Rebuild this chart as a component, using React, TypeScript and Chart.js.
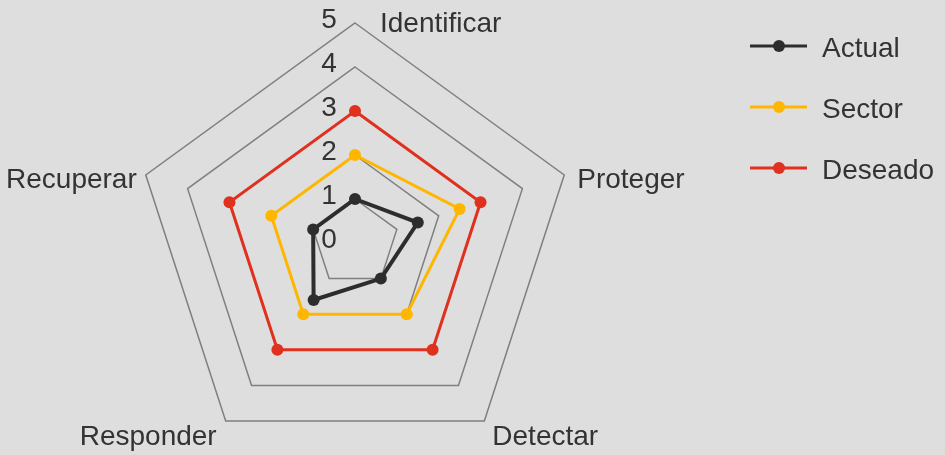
import React, { useEffect, useRef } from "react";
import { Chart, registerables } from "chart.js";

Chart.register(...registerables);

const categories = ["Identificar", "Proteger", "Detectar", "Responder", "Recuperar"];
const actualValues = [1, 1.5, 1, 1.6, 1];
const sectorValues = [2, 2.5, 2, 2, 2];
const deseadoValues = [3, 3, 3, 3, 3];
const seriesNames = ["Actual", "Sector", "Deseado"];
const tickValues = [0, 1, 2, 3, 4, 5];

const COLORS = ["#2d2d2d", "#ffb600", "#e0301e"];
const TEXT = "#333333";
const FONT = '28px "Liberation Sans", Arial, sans-serif';

// label placement offsets relative to outer-ring vertex
const labelDx = [25, 13, 8, -9, -9];
const labelDy = [9, 12.5, 24, 24, 12.5];
const labelAlign: CanvasTextAlign[] = ["left", "left", "left", "right", "right"];

const customText = {
  id: "customText",
  beforeDatasetsDraw(chart: any) {
    const scale = chart.scales.r;
    const ctx = chart.ctx;
    ctx.save();
    ctx.font = FONT;
    ctx.fillStyle = TEXT;
    ctx.textBaseline = "alphabetic";
    // tick labels
    ctx.textAlign = "center";
    tickValues.forEach((v) => {
      const y = scale.yCenter - scale.getDistanceFromCenterForValue(v);
      ctx.fillText(String(v), scale.xCenter - 26, y + 5);
    });
    // point labels
    categories.forEach((c, i) => {
      const p = scale.getPointPosition(i, scale.drawingArea);
      ctx.textAlign = labelAlign[i];
      ctx.fillText(c, p.x + labelDx[i], p.y + labelDy[i]);
    });
    ctx.restore();
  },
  afterDraw(chart: any) {
    const ctx = chart.ctx;
    ctx.save();
    ctx.font = FONT;
    chart.data.datasets.forEach((ds: any, i: number) => {
      const y = 46 + i * 61;
      ctx.strokeStyle = ds.borderColor;
      ctx.lineWidth = 3;
      ctx.beginPath();
      ctx.moveTo(750, y);
      ctx.lineTo(807, y);
      ctx.stroke();
      ctx.fillStyle = ds.borderColor;
      ctx.beginPath();
      ctx.arc(779, y, 6, 0, Math.PI * 2);
      ctx.fill();
      ctx.fillStyle = TEXT;
      ctx.textAlign = "left";
      ctx.textBaseline = "alphabetic";
      ctx.fillText(ds.label, 822, y + 10.5);
    });
    ctx.restore();
  },
};

export default function App() {
  const ref = useRef<HTMLCanvasElement>(null);
  useEffect(() => {
    if (!ref.current) return;
    const values = [actualValues, sectorValues, deseadoValues];
    const chart = new Chart(ref.current, {
      type: "radar",
      data: {
        labels: categories,
        datasets: values.map((v, i) => ({
          label: seriesNames[i],
          data: v,
          borderColor: COLORS[i],
          backgroundColor: COLORS[i],
          pointBackgroundColor: COLORS[i],
          pointBorderColor: COLORS[i],
          pointBorderWidth: 0,
          pointRadius: 6,
          borderWidth: i === 0 ? 4 : 3,
          fill: false,
        })),
      },
      options: {
        responsive: false,
        animation: false,
        layout: { padding: { top: 23, bottom: 17, left: 135, right: 370 } },
        plugins: { legend: { display: false }, tooltip: { enabled: false } },
        scales: {
          r: {
            min: 0,
            max: 5,
            ticks: { display: false, stepSize: 1 },
            pointLabels: { display: false },
            angleLines: { display: false },
            grid: { color: "#7f7f7f", lineWidth: 1.5, circular: false },
          },
        },
      },
      plugins: [customText],
    });
    return () => chart.destroy();
  }, []);
  return (
    <div
      style={{
        position: "fixed",
        left: 0,
        top: 0,
        width: 945,
        height: 455,
        overflow: "hidden",
        background: "#dedede",
      }}
    >
      <canvas ref={ref} width={945} height={480} style={{ display: "block" }} />
    </div>
  );
}
